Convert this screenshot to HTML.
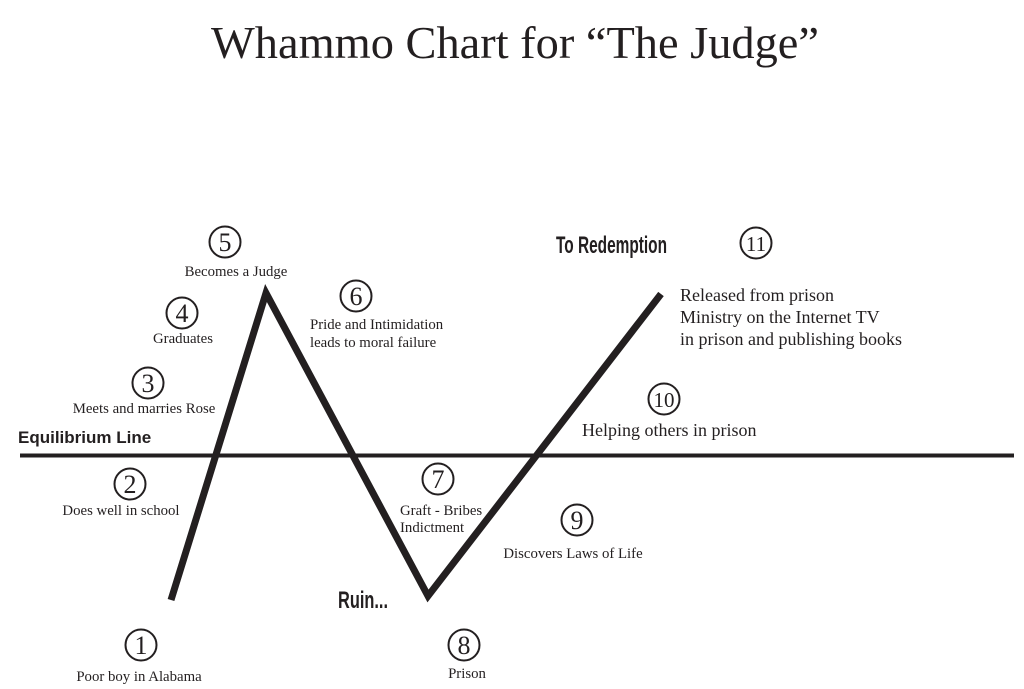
<!DOCTYPE html>
<html><head><meta charset="utf-8"><style>
html,body{margin:0;padding:0;background:#fff;width:1024px;height:689px;overflow:hidden}
svg{display:block}
.s{font-family:"Liberation Serif",serif;fill:#231f20}
.l{font-size:14.8px}
.n{font-size:26px}
</style></head><body>
<svg width="1024" height="689" viewBox="0 0 1024 689" xmlns="http://www.w3.org/2000/svg">
<text class="s" x="515" y="58" text-anchor="middle" font-size="46" textLength="608" lengthAdjust="spacingAndGlyphs">Whammo Chart for “The Judge”</text>
<line x1="20" y1="455.5" x2="1014" y2="455.5" stroke="#231f20" stroke-width="4"/>
<polyline points="171,600 266,293 428,596 661,294" fill="none" stroke="#231f20" stroke-width="7" stroke-linejoin="miter"/>
<text x="18" y="443" font-family="Liberation Sans,sans-serif" font-weight="bold" font-size="17" fill="#231f20">Equilibrium Line</text>
<text x="556" y="253" font-family="Liberation Sans Narrow,Liberation Sans,sans-serif" font-weight="bold" font-size="24" fill="#231f20" textLength="111" lengthAdjust="spacingAndGlyphs">To Redemption</text>
<text x="338" y="608" font-family="Liberation Sans Narrow,Liberation Sans,sans-serif" font-weight="bold" font-size="24" fill="#231f20" textLength="50" lengthAdjust="spacingAndGlyphs">Ruin...</text>
<g fill="none" stroke="#231f20" stroke-width="2">
<circle cx="141" cy="645" r="15.5"/><circle cx="130" cy="484" r="15.5"/><circle cx="148" cy="383" r="15.5"/>
<circle cx="182" cy="313" r="15.5"/><circle cx="225" cy="242" r="15.5"/><circle cx="356" cy="296" r="15.5"/>
<circle cx="438" cy="479" r="15.5"/><circle cx="464" cy="645" r="15.5"/><circle cx="577" cy="520" r="15.5"/>
<circle cx="664" cy="399" r="15.5"/><circle cx="756" cy="243" r="15.5"/>
</g>
<g class="s n" text-anchor="middle">
<text x="141" y="654">1</text><text x="130" y="493">2</text><text x="148" y="392">3</text>
<text x="182" y="322">4</text><text x="225" y="251">5</text><text x="356" y="305">6</text>
<text x="438" y="488">7</text><text x="464" y="654">8</text><text x="577" y="529">9</text>
<text x="664" y="407" font-size="21">10</text><text x="756" y="251" font-size="21">11</text>
</g>
<g class="s l" text-anchor="middle">
<text x="139" y="681">Poor boy in Alabama</text>
<text x="121" y="515">Does well in school</text>
<text x="144" y="413">Meets and marries Rose</text>
<text x="183" y="343">Graduates</text>
<text x="236" y="276">Becomes a Judge</text>
<text x="573" y="558">Discovers Laws of Life</text>
<text x="467" y="678">Prison</text>
</g>
<g class="s l">
<text x="310" y="329">Pride and Intimidation</text>
<text x="310" y="347">leads to moral failure</text>
<text x="400" y="515">Graft - Bribes</text>
<text x="400" y="532">Indictment</text>
</g>
<g class="s" font-size="18">
<text x="582" y="436">Helping others in prison</text>
<text x="680" y="301">Released from prison</text>
<text x="680" y="323">Ministry on the Internet TV</text>
<text x="680" y="345">in prison and publishing books</text>
</g>
</svg>
</body></html>
